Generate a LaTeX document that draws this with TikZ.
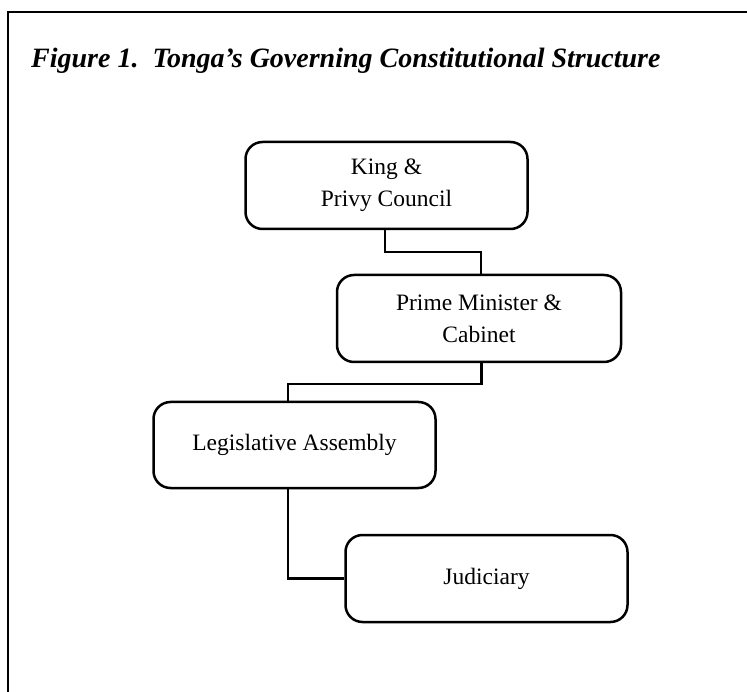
\documentclass[tikz,border=0pt]{standalone}
\usepackage{fontspec}
\setmainfont{Liberation Serif}
\begin{document}
\begin{tikzpicture}[x=1pt,y=-1pt,
  box/.style={draw,line width=2.5pt,rounded corners=17pt,minimum width=282pt,minimum height=87pt,
    align=center,inner sep=0pt,font=\fontsize{23.5}{32}\selectfont},
  conn/.style={line width=2.2pt},
  frame/.style={line width=2.6pt}]
\useasboundingbox (0,0) rectangle (747,692);
\draw[frame] (8,692) -- (8,12) -- (747,12);
\node[anchor=base west,inner sep=0pt,font=\bfseries\itshape\fontsize{28}{32}\selectfont] (title) at (31,68)
  {Figure 1.\hspace{0.5em}Tonga’s Governing Constitutional Structure};
\node[box] (king) at (386.5,185.5) {King \&\\Privy Council};
\node[box,minimum width=284pt] (pm) at (479,318.5) {Prime Minister \&\\Cabinet};
\node[box,minimum height=86pt] (leg) at (294.5,445) {Legislative Assembly};
\node[box] (jud) at (486.5,578.5) {Judiciary};
\coordinate (c1) at (430,252);
\coordinate (c2) at (380,384);
\draw[conn] ([xshift=-1.5pt]king.south) |- (c1) -| ([xshift=2pt]pm.north);
\draw[conn] ([xshift=2.5pt]pm.south) |- (c2) -| ([xshift=-6.5pt]leg.north);
\draw[conn] ([xshift=-6.5pt]leg.south) |- (jud.west);
\end{tikzpicture}
\end{document}
